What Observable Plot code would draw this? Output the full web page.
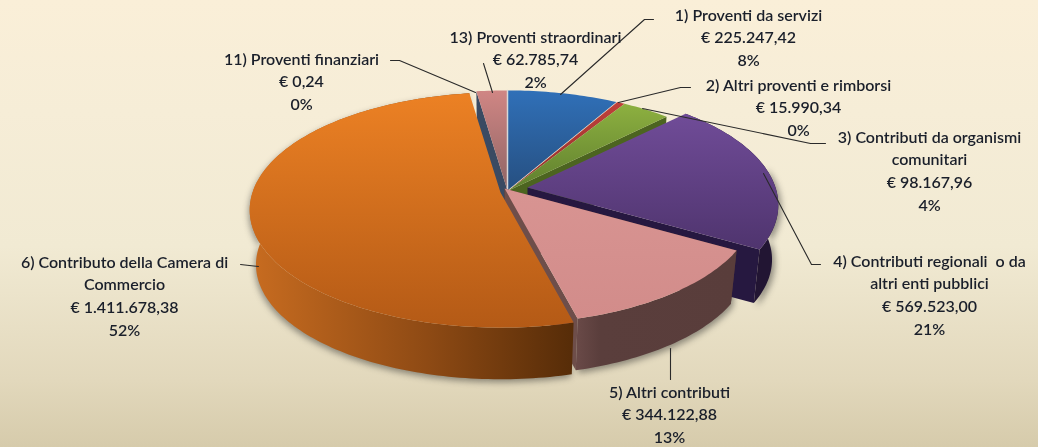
<!DOCTYPE html>
<html><head><meta charset="utf-8">
<script src="https://cdn.jsdelivr.net/npm/d3@7"></script>
<script src="https://cdn.jsdelivr.net/npm/@observablehq/plot@0.6"></script>
<style>html,body{margin:0;padding:0;overflow:hidden;background:#F2EBD5}svg{display:block}</style>
</head><body><div id="chart"></div>
<script>
const codes = ["1","2","3","4","5","6","11","13"];
const values = [225247.42,15990.34,98167.96,569523.00,344122.88,1411678.38,0.24,62785.74];
const labels = [
 "1) Proventi da servizi\n€ 225.247,42\n8%",
 "2) Altri proventi e rimborsi\n€ 15.990,34\n0%",
 "3) Contributi da organismi\ncomunitari\n€ 98.167,96\n4%",
 "4) Contributi regionali  o da\naltri enti pubblici\n€ 569.523,00\n21%",
 "5) Altri contributi\n€ 344.122,88\n13%",
 "6) Contributo della Camera di\nCommercio\n€ 1.411.678,38\n52%",
 "11) Proventi finanziari\n€ 0,24\n0%",
 "13) Proventi straordinari\n€ 62.785,74\n2%"
];
// layout
const W=1038,H=447,cx=507,cy=190,rx=248,ry=115,k=0.149,depth=55/ry,bs=0.975;
const explode={ "1":[0,0],"2":[1,0],"3":[1,0],"4":[20,-3],"5":[-3,-2],"6":[-7,2],"11":[0,0],"13":[0,0] };
const labelAt={ "1":[748,13],"2":[798,83],"3":[929,135],"4":[929,259],"5":[669,390],"6":[124,260],"11":[301,57],"13":[535,35] };
const leaders={
 "1":[[560,94],[644,19],[653,19]],
 "2":[[618,102],[680,87],[690,87]],
 "3":[[642,108],[810,143],[825,143]],
 "4":[[763,173],[811,264],[820,264]],
 "5":[[670,348],[670,379]],
 "6":[[240,264],[258,266]],
 "11":[[390,60],[399,60],[475,92]],
 "13":[[483,63],[492,92]]
};
const X=p=>(p-cx)/rx, Y=p=>(p-cy)/ry;
const total=d3.sum(values);
let acc=0;
const slices=codes.map((c,i)=>{const a0=acc/total*2*Math.PI;acc+=values[i];const a1=acc/total*2*Math.PI;
  return {code:c,a0,a1,off:[explode[c][0]/rx,explode[c][1]/ry]};});
const S=Object.fromEntries(slices.map(s=>[s.code,s]));
const pt=(s,t,b=false)=>{const f=1/(1+k*Math.cos(t))*(b?bs:1);
  return {x:s.off[0]+Math.sin(t)*f,y:s.off[1]-Math.cos(t)*f+(b?depth:0)};};
const apex=(s,b=false)=>({x:s.off[0],y:s.off[1]+(b?depth:0)});
const arc=(s,t0,t1,b=false)=>{const n=Math.max(2,Math.ceil(Math.abs(t1-t0)/0.02));
  return d3.range(n+1).map(i=>pt(s,t0+(t1-t0)*i/n,b));};
const topP=s=>[apex(s),...arc(s,s.a0,s.a1),apex(s)];
const rimP=(s,t0=s.a0,t1=s.a1)=>[...arc(s,t0,t1),...arc(s,t1,t0,true)];
const wallP=(s,t)=>[apex(s),pt(s,t),pt(s,t,true),apex(s,true)];
const poly=(pts,fill,o={})=>Plot.line(pts,{x:"x",y:"y",fill,stroke:"none",...o});
const shift=(pts,dx,dy)=>pts.map(p=>({x:p.x+dx/rx,y:p.y+dy/ry}));

const grads=[
 ["gBlue",0,0,0,1,[[0,"#3070B8"],[1,"#264F80"]]],
 ["gRed",0,0,0,1,[[0,"#C0403A"],[1,"#8E2F2C"]]],
 ["gGreen",0,0,0,1,[[0,"#8DB040"],[1,"#5F7F2E"]]],
 ["gPurple",0,0,0,1,[[0,"#704C98"],[1,"#4F346E"]]],
 ["gPink",0,0,0,1,[[0,"#D89492"],[1,"#D28C8A"]]],
 ["gOrange",0,0,0,1,[[0,"#EC8124"],[1,"#B45A16"]]],
 ["gRose",0,0,0,1,[[0,"#D08684"],[1,"#8E6464"]]],
 ["gOrangeSide",0,0,1,0,[[0,"#C86C20"],[.55,"#8E4A14"],[1,"#562C08"]]],
 ["gPinkSide",0,0,1,0,[[0,"#6A4A48"],[.15,"#5A3E3C"],[1,"#593D3B"]]],
];
const defs=()=>{const d=d3.create("svg:defs");
  for(const [id,x1,y1,x2,y2,st] of grads){const g=d.append("linearGradient").attr("id",id)
    .attr("x1",x1).attr("y1",y1).attr("x2",x2).attr("y2",y2);
    st.forEach(([o,c])=>g.append("stop").attr("offset",o).attr("stop-color",c));}
  return d.node();};

const O=S["6"],P=S["5"],V=S["4"],G=S["3"],R=S["2"],B=S["1"],Q=S["13"];
const shadow={imageFilter:"blur(3px)",fillOpacity:0.45};
const marks=[
 defs,
 poly(shift(rimP(O),-1,3),"#222",shadow),
 poly(shift(rimP(P),2,3),"#222",shadow),
 poly(shift(rimP(V,V.a0+0.6,V.a1),3,3),"#222",shadow),
 // back walls
 poly(wallP(Q,Q.a0),"#3A4A62"),
 poly(topP(B),"url(#gBlue)"),
 poly(wallP(G,G.a1),"#4C6420"),
 poly(topP(R),"url(#gRed)"),
 poly(topP(G),"url(#gGreen)"),
 poly(topP(Q),"url(#gRose)"),
 Plot.line([apex(B),pt(B,0)],{x:"x",y:"y",stroke:"#D8D8D8",strokeWidth:1.5}),
 // purple
 poly(wallP(V,V.a1),"#261840"),
 poly(rimP(V),"#221533"),
 poly(topP(V),"url(#gPurple)"),
 // pink
 poly(wallP(P,P.a0),"#4A3030"),
 poly(wallP(P,P.a1),"#6E4E4A"),
 poly(rimP(P),"url(#gPinkSide)"),
 poly(topP(P),"url(#gPink)"),
 // orange
 poly(rimP(O),"url(#gOrangeSide)"),
 poly(topP(O),"url(#gOrange)"),
 // leaders
 ...codes.map(c=>Plot.line(leaders[c].map(([x,y])=>({x:X(x),y:Y(y)})),{x:"x",y:"y",stroke:"#2a2a2a",strokeWidth:1.1})),
 // labels
 Plot.text(codes.map((c,i)=>({x:X(labelAt[c][0]),y:Y(labelAt[c][1]-0.5),t:labels[i]})),{
   x:"x",y:"y",text:"t",textAnchor:"middle",lineAnchor:"middle",lineHeight:1.0,
   fontFamily:"Lato",fontSize:16,fontWeight:600,fill:"#1a1f2a",stroke:"none"})
];
// text is positioned with its first line centre at the anchor
marks[marks.length-1]=Plot.text(codes.map((c,i)=>({x:X(labelAt[c][0]),y:Y(labelAt[c][1]-9),t:labels[i]})),{
   x:"x",y:"y",text:"t",textAnchor:"middle",lineAnchor:"top",lineHeight:1.42,
   fontFamily:"Lato",fontSize:16,fontWeight:600,fill:"#1a1f2a",imageFilter:"blur(0.35px)"});
const chart=Plot.plot({width:W,height:H,margin:0,
  x:{domain:[X(0),X(W)],range:[0,W],axis:null},
  y:{domain:[Y(0),Y(H)],range:[0,H],axis:null},
  style:{background:"linear-gradient(to bottom,#FAEFD8 0%,#F6EDD7 25%,#F1EAD3 55%,#E2D8BC 85%,#D6CBAB 100%)"},
  marks});
document.getElementById("chart").append(chart);
</script></body></html>
